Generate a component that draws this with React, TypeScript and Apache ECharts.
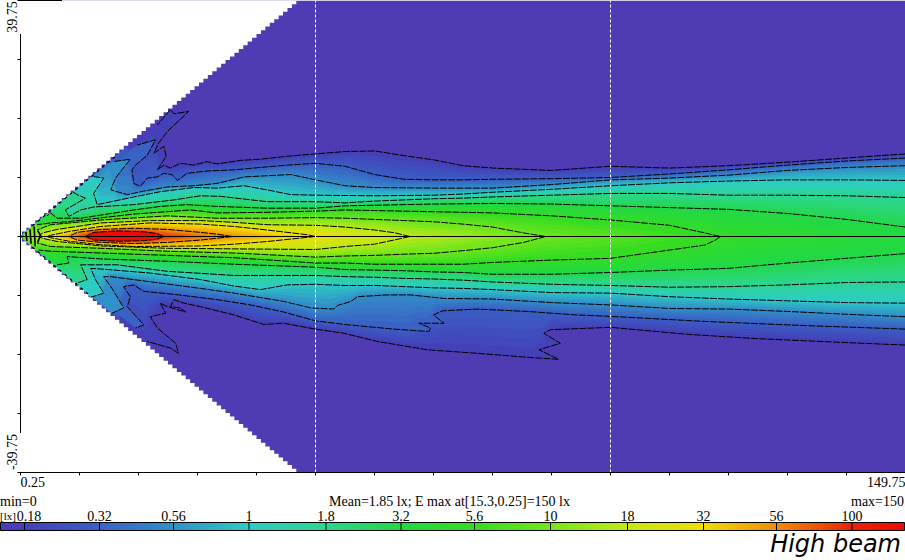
import React, { useEffect, useRef } from "react";
import * as echarts from "echarts";

type P = number[];

// Illuminance levels (lx) and their colours.
const levels = [0.18, 0.32, 0.56, 1, 1.8, 3.2, 5.6, 10, 18, 32, 56, 100];
const levelColors = ["#4440b8", "#3a62c5", "#3290c8", "#2cccc4", "#2cd58e", "#22d944", "#36dc22", "#74e61c", "#c4e816", "#f2dc08", "#f08c08", "#ea2208"];
const peakColor = "#ee0a00";
const belowColor = "#4f3cb4";
const colorbarLabels = ["0.18", "0.32", "0.56", "1", "1.8", "3.2", "5.6", "10", "18", "32", "56", "100"];

// Axis ticks (metres)
const xRange = [0, 150];
const yRange = [-40, 40];
const tickStep = 10;
const xEndLabels: Record<number, string> = { 0: "0.25", 150: "149.75" };
const gridLinesX = [50, 100];
const yEndLabels = ["39.75", "-39.75"];

// Limit of the measured field (x, half-width in m)
const fieldEdgeEnd = [47.5, 40];
const fieldStep = 0.75;

// Contours, [x m, y m], listed from the right end to the left end.
const u018: P[] = [[150,14],[140,13.3],[130,12.6],[120,12],[110,11.6],[100,11.9],[90,11.2],[80,11.6],[75,12],[70,13],[65,13.7],[60,14.5],[55,14.4],[50,14],[45.2,13.6],[40.7,13.1],[37.3,12.9],[33.3,12.3],[31.6,12.7],[29.4,12.1],[27.1,12.4],[25.4,11.6],[24.3,12.1],[23.2,11.3],[24.7,13.6],[24.3,15.3],[22.6,14.1],[23.4,15.8],[24.9,17.8],[28.5,21.2],[26,20.8],[25.4,21.5],[23.2,18.9]];
const u032: P[] = [[150,13.3],[140,12.8],[130,12.1],[120,11.3],[110,10.6],[100,10],[90,9.8],[80,9.7],[75,9.6],[70,9.6],[65,9.7],[60,10.5],[55,11.9],[50,12.4],[45.2,12.1],[41.8,11.8],[36.2,11.3],[31.6,11.1],[28.2,10.7],[26.6,9.5],[25.7,10.5],[24.3,10.7],[23.2,10.1],[21.5,9.9],[20.3,8.5],[19.2,9],[18.9,11.3],[19.5,12.1],[21.5,13.8],[22.9,16.4],[19.8,15.5]];
const u056: P[] = [[150,12],[140,11.7],[130,11.2],[120,10.4],[110,9.9],[100,9.6],[90,8.8],[80,8.2],[70,8.2],[60,8.3],[55,8.6],[50,9.6],[45.8,10.5],[41.8,10.3],[37.9,10.1],[33.3,9],[29.4,8.6],[24.9,8.4],[20.9,7.7],[18.1,7.1],[15.3,7.9],[16.1,9.9],[18.6,13.1],[15.8,12.7]];
const u100: P[] = [[150,9.5],[140,9.6],[130,9.6],[120,9.4],[110,9.1],[100,8.6],[90,8],[80,7.5],[75,7.2],[70,7],[60,6.9],[50,7],[45.8,7.1],[41.8,7.9],[37.9,8.6],[33.3,8.2],[29.4,8.3],[23.7,7.6],[19.2,6.7],[13,5.4],[12.4,7.3],[14.1,9.9],[12.1,10.2]];
const u180: P[] = [[150,6.6],[140,6.9],[130,7],[120,7],[110,7.3],[100,7.3],[90,7],[80,6.7],[75,6.5],[70,6.4],[65,6.2],[60,6],[55,5.7],[50,5.9],[41.8,5.9],[33.9,6.8],[30.5,6.9],[26,6.2],[19.2,5.4],[12.4,5],[10.2,4.5],[8.2,3.4],[7.6,4.5],[11,6.5],[9.6,7.1],[8.8,7.6]];
const u320: P[] = [[150,1.6],[140,2.9],[130,3.9],[120,4.6],[110,4.9],[100,5.2],[90,5.5],[80,5.6],[70,5.5],[60,5.3],[55,5.2],[50,4.8],[41.8,4.8],[33.3,5.1],[28.2,5.4],[23.7,5.1],[19.2,4.5],[10.2,3.1],[6.2,3.1],[5.1,4],[4.5,3.5]];
const u560: P[] = [[118.6,0],[116,0.6],[110,1.9],[100,2.8],[90,3.5],[80,4],[75,4.1],[70,4.2],[60,4.4],[55,4.5],[50,4.3],[41.8,4.1],[33.3,4],[28.8,4.5],[19.2,3.8],[7.9,2.5],[5.1,2.3],[2.8,2]];
const u1000: P[] = [[89,0],[85.3,0.6],[80,1.6],[75,2.1],[70,2.5],[65,2.7],[60,2.9],[55,3.1],[50,3.2],[41.8,3.1],[33.3,3.1],[24.9,3.5],[13.6,2.8],[5.1,2],[2.8,1.1]];
const u1800: P[] = [[66,0],[63.3,0.65],[60,1.1],[55,1.6],[50,1.9],[41.8,2],[36.2,2.4],[30.5,2.7],[22,2.7],[13.6,2.3],[6.2,1.2],[3.7,0.6],[3.1,0]];
const u3200: P[] = [[50,0],[48.6,0.3],[41.8,1.1],[36.2,1.7],[30.5,2.1],[22,2.3],[13.6,1.7],[8.2,0.85],[5.1,0.2],[4.5,0]];
const u5600: P[] = [[35.9,0],[33.3,0.4],[30.5,0.7],[24.9,1.2],[19.2,1.4],[13.6,1.2],[9.6,0.7],[8.2,0]];
const u10000: P[] = [[24.2,0],[23.2,0.5],[20.9,0.8],[16.4,0.95],[12.4,0.7],[11,0]];

const l018: P[] = [[150,18.4],[140.4,18],[124.6,17.3],[113.3,16.6],[100,15.4],[89.8,15.8],[88.7,16.4],[91.5,18.1],[87.9,19.2],[91.2,20.8],[87.6,20.6],[77.4,19.8],[69,19.2],[60.5,17.8],[54.8,16.4],[50,15.7],[44.6,14.7],[41.2,14.9],[36.2,13.3],[30.5,11.9],[27.7,11.3],[26,10.7],[25.4,11.9],[27.1,12.1],[28,12.8],[24.9,11.9],[23.7,11.3],[24.6,13],[23.2,13.3],[22,13.6],[23.2,15.5],[26.3,18.1],[26.8,19.8],[25.4,18.9],[21.5,17.8]];
const l032: P[] = [[150,15.7],[133,15.1],[116.1,14.4],[99.2,13.5],[94.3,13.3],[85.9,12.7],[77.4,12.3],[71.5,12.6],[70,13.3],[71.8,14.7],[67.5,14.7],[69.5,15.5],[69.2,16.1],[63.3,15.7],[54.8,14.9],[50,14.3],[44.6,12.8],[39,11.6],[33.3,10.7],[26,9.8],[20.9,9.3],[19.2,8.2],[17.5,8.5],[18.6,10.2],[18.1,11.9],[20.9,15],[19.5,15.5]];
const l056: P[] = [[150,13.6],[140.4,13.2],[130,12.7],[120,12.3],[110,12.2],[100,11.6],[90,11.2],[80,10.6],[71.8,10.5],[66.1,9.9],[62.1,9.9],[57.1,10.2],[56,11],[53.7,11.7],[53.1,12.3],[49.2,12.1],[44.6,11],[36.2,9.6],[30.5,8.8],[23.7,7.9],[15.3,6.8],[14.1,6.8],[15.5,8.8],[17.5,12.1],[15.5,13]];
const l100: P[] = [[150,11.3],[140,11.2],[130,10.9],[120,10.6],[110,10.2],[100,9.6],[90,9.5],[80,9],[75,8.8],[70,8.7],[65,8.5],[60,8.3],[55,8.3],[50,8.1],[45.2,8.2],[40.7,9],[36.2,8.4],[30.5,7.3],[22,6.2],[13.6,5.5],[11.9,5.4],[12.7,7.3],[14.1,9.6],[11.9,10.3]];
const l180: P[] = [[150,7.7],[140,7.8],[130,8.2],[120,8.5],[110,8.6],[100,8.3],[90,8.1],[80,7.7],[75,7.4],[70,7.2],[65,7.1],[60,6.9],[55,6.8],[50,6.6],[36.2,6.6],[24.9,5.9],[16.4,4.8],[10.2,4.8],[11.3,7.3],[9.3,8]];
const l320: P[] = [[150,2.9],[140,3.7],[130,4.5],[120,5.4],[110,5.7],[100,6.1],[90,6.4],[80,6.4],[75,6.1],[70,6],[65,5.8],[60,5.7],[55,5.6],[50,5.2],[36.2,4.7],[24.9,4.2],[13.6,3.8],[7.9,3.4],[8.2,4.5],[6.2,4.8]];
const l560: P[] = [[118.6,0],[117.8,0.6],[116,1.45],[110,2.3],[100,3.7],[90,4],[80,4.4],[75,4.7],[70,4.7],[60,4.7],[55,4.5],[50,4.5],[36.2,3.6],[24.9,3.2],[13.6,2.8],[5.1,2.5],[3.1,2.3]];
const l1000: P[] = [[89,0],[85.3,1],[80,1.9],[75,2.4],[70,2.85],[65,3],[60,3.2],[55,3.3],[50,3.5],[36.2,2.8],[24.9,2.5],[13.6,2],[5.1,1.7],[2.8,1.1]];
const l1800: P[] = [[66,0],[63.3,0.6],[60,1.3],[55,1.7],[50,2.2],[36.2,2.1],[24.9,2],[13.6,1.6],[6.2,0.85],[3.7,0.3],[3.1,0]];
const l3200: P[] = [[50,0],[41.8,0.85],[36.2,1.3],[30.5,1.6],[19.2,1.7],[13.6,1.4],[8.2,0.8],[5.1,0.2],[4.5,0]];
const l5600: P[] = [[35.9,0],[33.3,0.3],[30.5,0.6],[24.9,1],[19.2,1.2],[13.6,1],[9.6,0.6],[8.2,0]];
const l10000: P[] = [[24.2,0],[23.2,0.45],[20.9,0.7],[16.4,0.8],[12.4,0.6],[11,0]];

const upperContours = [u018, u032, u056, u100, u180, u320, u560, u1000, u1800, u3200, u5600, u10000];
const lowerContours = [l018, l032, l056, l100, l180, l320, l560, l1000, l1800, l3200, l5600, l10000];

// Where each level closes on the beam axis (m); 999 = never inside the field.
const axisCloseRight = [999, 999, 999, 999, 300, 160, 118.6, 89, 66, 50, 35.9, 24.2];
const axisCloseLeft = [0, 0, 0, 0, 0, 0, 0, 0, 3.1, 4.5, 8.2, 11];

// Small contour arcs crowded at the lamp, and the contour ends along the field edge.
const apexArcs: P[][] = [
  [[0.9, 0.8], [1.1, -0.8]], [[1.6, 1.2], [1.8, -1.2]], [[2.9, 1.0], [3.4, 0.2], [2.9, -1.0]],
  [[2.3, 1.7], [2.5, -1.7]], [[0.6, 0], [-0.4, 0]],
];
const edgeTraceUpper: P[] = [[2, 1.8], [16, 13.5]];
const edgeTraceLower: P[] = [[2, -1.8], [12, -10.2]];

// --- shading helpers (colour ramp between the contours read above) ---
const SHADES = 5;
const edge = (x: number) => (x * fieldEdgeEnd[1]) / fieldEdgeEnd[0];
const lerp = (a: number, b: number, t: number) => a + (b - a) * t;
const rgb = (h: string) => [1, 3, 5].map((i) => parseInt(h.slice(i, i + 2), 16));
const mix = (a: string, b: string, t: number) => {
  const A = rgb(a), B = rgb(b);
  return `rgb(${A.map((v, i) => Math.round(lerp(v, B[i], t))).join(",")})`;
};
function widthAt(poly: P[], x: number) {
  for (let i = 0; i + 1 < poly.length; i++) {
    const [x0, y0] = poly[i], [x1, y1] = poly[i + 1];
    if ((x <= x0 && x >= x1) || (x >= x0 && x <= x1)) {
      const t = x0 === x1 ? 0 : (x - x0) / (x1 - x0);
      return Math.min(lerp(y0, y1, t), edge(x));
    }
  }
  if (x > poly[0][0]) return poly[0][1] > 0.01 ? poly[0][1] : 0;
  return poly[poly.length - 1][1] > 0.01 ? edge(x) : 0;
}
const stationXs: number[] = [];
for (let x = 0.5; x <= 150; x += x < 12 ? 0.5 : 1.5) stationXs.push(x);
stationXs.push(150);

function shadeEdge(contours: P[][], i: number, t: number, sign: number) {
  const xr = lerp(axisCloseRight[i], axisCloseRight[i + 1], t);
  const xl = lerp(axisCloseLeft[i], axisCloseLeft[i + 1], t);
  const out: P[] = [];
  for (const x of stationXs) {
    if (x > xr || x < xl) continue;
    let y = lerp(widthAt(contours[i], x), widthAt(contours[i + 1], x), t);
    if (x > axisCloseRight[i + 1]) y *= Math.sqrt(Math.max(0, 1 - (x - axisCloseRight[i + 1]) / (xr - axisCloseRight[i + 1])));
    if (x < axisCloseLeft[i + 1]) y *= Math.sqrt(Math.max(0, 1 - (axisCloseLeft[i + 1] - x) / (axisCloseLeft[i + 1] - xl)));
    out.push([x, sign * y]);
  }
  return out;
}
const mirror = (poly: P[]) => poly.map(([x, y]) => [x, -y]);

function buildField() {
  const polys: { pts: P[]; fill: string }[] = [];
  levels.forEach((_, i) => {
    polys.push({ pts: [...upperContours[i], ...(axisCloseLeft[i] === 0 ? [[0, 0]] : []), ...mirror(lowerContours[i]).reverse()], fill: i + 1 === levels.length ? peakColor : levelColors[i] });
    if (i + 1 === levels.length) return;
    for (let k = 1; k < SHADES; k++) {
      const t = k / SHADES;
      const up = shadeEdge(upperContours, i, t, 1);
      const lo = shadeEdge(lowerContours, i, t, -1);
      polys.push({ pts: [...up.reverse(), ...lo], fill: mix(levelColors[i], levelColors[i + 1], t) });
    }
  });
  return polys;
}
function buildMask(sign: number) {
  const pts: P[] = [[-1, sign * yRange[1]], [fieldEdgeEnd[0], sign * yRange[1]]];
  for (let x = fieldEdgeEnd[0]; x > 0; x -= fieldStep) {
    const y = edge(x);
    pts.push([x, sign * y], [x - fieldStep, sign * y]);
  }
  pts.push([-1, 0]);
  return pts;
}

export default function App() {
  const ref = useRef<HTMLDivElement>(null);
  useEffect(() => {
    document.body.style.margin = "0";
    document.body.style.background = "#fff";
    const chart = echarts.init(ref.current!, undefined, { renderer: "svg" });

    const field = buildField();
    const masks = [buildMask(1), buildMask(-1)];
    const lines: { pts: P[]; stroke: string; w: number; dash?: number[] }[] = [];
    levels.forEach((_, i) => {
      lines.push({ pts: upperContours[i], stroke: "#000", w: 1, dash: [7, 1.2] });
      lines.push({ pts: mirror(lowerContours[i]), stroke: "#000", w: 1, dash: [7, 1.2] });
    });
    apexArcs.forEach((pts) => lines.push({ pts, stroke: "#000", w: 1.6 }));
    lines.push({ pts: edgeTraceUpper, stroke: "#000", w: 1.3, dash: [3, 4] });
    lines.push({ pts: edgeTraceLower, stroke: "#000", w: 1.3, dash: [3, 4] });
    lines.push({ pts: [[-0.3, 0], [150, 0]], stroke: "#000", w: 1 });
    gridLinesX.forEach((x) => lines.push({ pts: [[x, yRange[0]], [x, yRange[1]]], stroke: "#fff", w: 1, dash: [3, 2] }));

    const toPts = (api: any, pts: P[]) => pts.map((p) => api.coord(p));
    const custom = (items: any[], make: (it: any, api: any) => any, z: number) => ({
      type: "custom",
      coordinateSystem: "cartesian2d",
      silent: true,
      z,
      clip: true,
      data: items.map(() => [0, 0]),
      renderItem: (params: any, api: any) => make(items[params.dataIndex], api),
    });

    const barX = [24.5, 99.5, 173.5, 249, 326, 401, 474.5, 550.5, 627.5, 703.5, 776.5, 852];
    const W = 905;
    const stops = [
      { offset: 0, color: belowColor },
      ...barX.map((x, i) => ({ offset: x / W, color: levelColors[i] })),
      { offset: 1, color: peakColor },
    ];
    const serif = "'Liberation Serif', 'Times New Roman', serif";
    const txt = (text: string, x: number, y: number, align: string = "left", extra: any = {}, size = 14) => ({
      type: "text", x, y, z: 100, silent: true,
      style: { text, fill: "#000", font: `${size}px ${serif}`, textAlign: align, textVerticalAlign: "middle" },
      ...extra,
    });

    chart.setOption({
      animation: false,
      backgroundColor: "#fff",
      grid: { left: 20.5, top: 0.5, width: 885, height: 472, containLabel: false, outerBoundsMode: "none" },
      xAxis: {
        type: "value", min: xRange[0], max: xRange[1], interval: tickStep, z: 20,
        axisLine: { show: true, onZero: false, lineStyle: { color: "#000", width: 1 } },
        axisTick: { show: true, length: 3, lineStyle: { color: "#000" } },
        splitLine: { show: false },
        axisLabel: {
          show: true, color: "#000", fontFamily: serif, fontSize: 14, margin: 3,
          alignMinLabel: "left", alignMaxLabel: "right", hideOverlap: false,
          formatter: (v: number) => xEndLabels[v] ?? "",
        },
      },
      yAxis: {
        type: "value", min: yRange[0], max: yRange[1], interval: tickStep, z: 20,
        axisLine: { show: false },
        axisTick: { show: true, length: 3, lineStyle: { color: "#000" } },
        axisLabel: { show: false },
        splitLine: { show: false },
      },
      series: [
        custom([0], (_: any, api: any) => ({
          type: "polygon",
          shape: { points: toPts(api, [[xRange[0], yRange[0]], [xRange[1], yRange[0]], [xRange[1], yRange[1]], [xRange[0], yRange[1]]]) },
          style: { fill: belowColor, stroke: null },
        }), 1),
        custom(field, (it: any, api: any) => ({
          type: "polygon", shape: { points: toPts(api, it.pts) }, style: { fill: it.fill, stroke: null },
        }), 2),
        custom(masks, (it: any, api: any) => ({
          type: "polygon", shape: { points: toPts(api, it) }, style: { fill: "#fff", stroke: null },
        }), 3),
        custom(lines, (it: any, api: any) => ({
          type: "polyline", shape: { points: toPts(api, it.pts) },
          style: { fill: null, stroke: it.stroke, lineWidth: it.w, lineDash: it.dash ?? null },
        }), 4),
      ],
      graphic: [
        { type: "line", z: 100, silent: true, shape: { x1: 20.5, y1: 34, x2: 20.5, y2: 433 }, style: { stroke: "#000", lineWidth: 1 } },
        { type: "line", z: 100, silent: true, shape: { x1: 20, y1: 0.5, x2: 62, y2: 0.5 }, style: { stroke: "#000", lineWidth: 1 } },
        txt(yEndLabels[0], 12, 17, "center", { rotation: Math.PI / 2 }),
        txt(yEndLabels[1], 12, 452, "center", { rotation: Math.PI / 2 }),
        txt("min=0", 0, 501),
        txt("Mean=1.85 lx; E max at[15.3,0.25]=150 lx", 329, 501),
        txt("max=150", 904, 501, "right"),
        txt("[lx]", 0, 516, "left", {}, 11),
        ...colorbarLabels.map((s, i) => txt(s, i === 0 ? 29 : barX[i], 516, "center")),
        {
          type: "rect", z: 100, silent: true, shape: { x: 0.5, y: 522.5, width: 904, height: 8 },
          style: { fill: new echarts.graphic.LinearGradient(0, 0, 1, 0, stops), stroke: "#000", lineWidth: 1 },
        },
        ...barX.map((x) => ({
          type: "line", z: 101, silent: true, shape: { x1: x, y1: 522, x2: x, y2: 530 }, style: { stroke: "#000", lineWidth: 1 },
        })),
        {
          type: "text", x: 901, y: 544, z: 100, silent: true,
          style: { text: "High beam", fill: "#000", font: "italic 24px 'DejaVu Sans', sans-serif", textAlign: "right", textVerticalAlign: "middle" },
        },
      ],
    });
    return () => chart.dispose();
  }, []);
  return <div ref={ref} style={{ width: 905, height: 560 }} />;
}
